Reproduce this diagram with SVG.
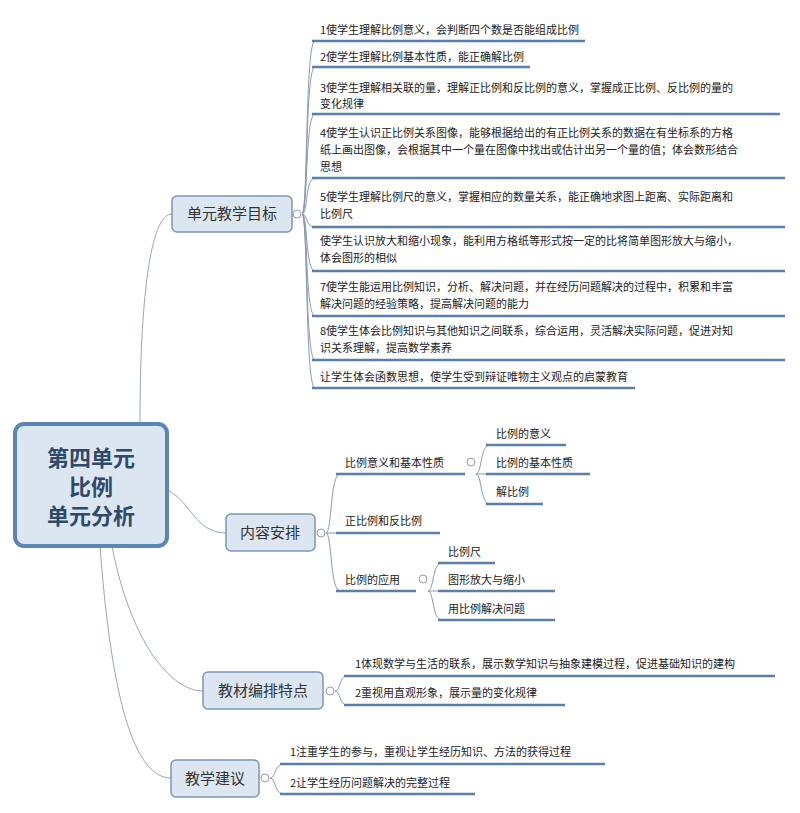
<svg xmlns="http://www.w3.org/2000/svg" width="800" height="813" viewBox="0 0 800 813">
<style>
text{font-family:"Noto Sans CJK SC","Liberation Sans",sans-serif;fill:#222}
.t{font-size:11px}
.b{font-size:15px;fill:#333;text-anchor:middle}
.box{fill:#dce6f1;stroke:#7a97b8;stroke-width:1.5}
.ul{stroke:#5a80aa;stroke-width:2.5;fill:none}
.c{stroke:#8a9bb0;stroke-width:1;fill:none}
.m{stroke:#9aa;stroke-width:1;fill:none}
.k{fill:#fff;stroke:#99a;stroke-width:1}
</style>
<g id="connectors">
<path class="m" d="M140,424 C140,300 150,214 172,214"/>
<path class="m" d="M167,490 C190,500 195,533 226,533"/>
<path class="m" d="M112,546 C130,640 170,691 203,691"/>
<path class="m" d="M100,546 C110,680 130,778 171,778"/>
<g class="c">
<path d="M302,214 C308,214 305,41 315,41"/><path d="M302,214 C308,214 305,67 315,67"/><path d="M302,214 C308,214 305,114 315,114"/><path d="M302,214 C308,214 305,178 315,178"/><path d="M302,214 C308,214 305,227 315,227"/><path d="M302,214 C308,214 305,271 315,271"/><path d="M302,214 C308,214 305,316 315,316"/><path d="M302,214 C308,214 305,360 315,360"/><path d="M302,214 C308,214 305,388 315,388"/>
<path d="M326,533 C332,533 330,474 340,474"/><path d="M326,533 L340,533"/><path d="M326,533 C332,533 330,591 340,591"/>
<path d="M476,474 C482,474 480,445 490,445"/><path d="M476,474 L490,474"/><path d="M476,474 C482,474 480,504 490,504"/>
<path d="M428,591 C434,591 432,563 442,563"/><path d="M428,591 L442,591"/><path d="M428,591 C434,591 432,620 442,620"/>
<path d="M335,691 C341,691 339,676 347,676"/><path d="M335,691 C341,691 339,705 347,705"/>
<path d="M270,778 C276,778 274,764 284,764"/><path d="M270,778 C276,778 274,794 284,794"/>
</g>
<g class="ul">
<path d="M312,41H585"/><path d="M312,67H530"/><path d="M312,114H780"/><path d="M312,178H785"/><path d="M312,227H785"/><path d="M312,271H785"/><path d="M312,316H785"/><path d="M312,360H785"/><path d="M312,388H635"/>
<path d="M336,474H465"/><path d="M336,533H440"/><path d="M336,591H416"/>
<path d="M486,445H566"/><path d="M486,474H590"/><path d="M486,504H543"/>
<path d="M438,563H495"/><path d="M438,591H555"/><path d="M438,620H555"/>
<path d="M344,676H775"/><path d="M344,705H565"/>
<path d="M280,764H605"/><path d="M280,794H475"/>
</g>
<g><circle class="k" cx="297" cy="214" r="4"/><circle class="k" cx="321" cy="533" r="4"/><circle class="k" cx="471" cy="462" r="4"/><circle class="k" cx="423" cy="579" r="4"/><circle class="k" cx="330" cy="691" r="4"/><circle class="k" cx="265" cy="778" r="4"/></g>
</g>
<g id="root"><rect x="15" y="424" width="152" height="122" rx="9" fill="#dce6f1" stroke="#5b86b3" stroke-width="4"/>
<text x="91" y="466" font-size="22" font-weight="bold" text-anchor="middle" style="fill:#2f4a68">第四单元</text>
<text x="91" y="495" font-size="22" font-weight="bold" text-anchor="middle" style="fill:#2f4a68">比例</text>
<text x="91" y="524" font-size="22" font-weight="bold" text-anchor="middle" style="fill:#2f4a68">单元分析</text></g>
<g id="n1"><rect class="box" x="172" y="196" width="120" height="36" rx="5"/><text class="b" x="232" y="219">单元教学目标</text></g>
<g id="n2"><rect class="box" x="226" y="514" width="89" height="37" rx="5"/><text class="b" x="270" y="538">内容安排</text></g>
<g id="n3"><rect class="box" x="203" y="672" width="120" height="37" rx="5"/><text class="b" x="263" y="696">教材编排特点</text></g>
<g id="n4"><rect class="box" x="171" y="760" width="88" height="37" rx="5"/><text class="b" x="215" y="784">教学建议</text></g>
<g id="items" class="t">
<text class="t" x="320" y="34">1使学生理解比例意义，会判断四个数是否能组成比例</text>
<text class="t" x="320" y="61">2使学生理解比例基本性质，能正确解比例</text>
<text class="t" x="320" y="92">3使学生理解相关联的量，理解正比例和反比例的意义，掌握成正比例、反比例的量的</text>
<text class="t" x="320" y="108">变化规律</text>
<text class="t" x="320" y="137">4使学生认识正比例关系图像，能够根据给出的有正比例关系的数据在有坐标系的方格</text>
<text class="t" x="320" y="154">纸上画出图像，会根据其中一个量在图像中找出或估计出另一个量的值；体会数形结合</text>
<text class="t" x="320" y="171">思想</text>
<text class="t" x="320" y="201">5使学生理解比例尺的意义，掌握相应的数量关系，能正确地求图上距离、实际距离和</text>
<text class="t" x="320" y="218">比例尺</text>
<text class="t" x="320" y="245">使学生认识放大和缩小现象，能利用方格纸等形式按一定的比将简单图形放大与缩小，</text>
<text class="t" x="320" y="262">体会图形的相似</text>
<text class="t" x="320" y="291">7使学生能运用比例知识，分析、解决问题，并在经历问题解决的过程中，积累和丰富</text>
<text class="t" x="320" y="308">解决问题的经验策略，提高解决问题的能力</text>
<text class="t" x="320" y="335">8使学生体会比例知识与其他知识之间联系，综合运用，灵活解决实际问题，促进对知</text>
<text class="t" x="320" y="352">识关系理解，提高数学素养</text>
<text class="t" x="320" y="381">让学生体会函数思想，使学生受到辩证唯物主义观点的启蒙教育</text>
<text class="t" x="345" y="467">比例意义和基本性质</text>
<text class="t" x="496" y="438">比例的意义</text>
<text class="t" x="496" y="467">比例的基本性质</text>
<text class="t" x="496" y="496">解比例</text>
<text class="t" x="345" y="525">正比例和反比例</text>
<text class="t" x="345" y="584">比例的应用</text>
<text class="t" x="448" y="556">比例尺</text>
<text class="t" x="448" y="584">图形放大与缩小</text>
<text class="t" x="448" y="613">用比例解决问题</text>
<text class="t" x="355" y="668">1体现数学与生活的联系，展示数学知识与抽象建模过程，促进基础知识的建构</text>
<text class="t" x="355" y="697">2重视用直观形象，展示量的变化规律</text>
<text class="t" x="290" y="756">1注重学生的参与，重视让学生经历知识、方法的获得过程</text>
<text class="t" x="290" y="787">2让学生经历问题解决的完整过程</text>
</g>
</svg>
